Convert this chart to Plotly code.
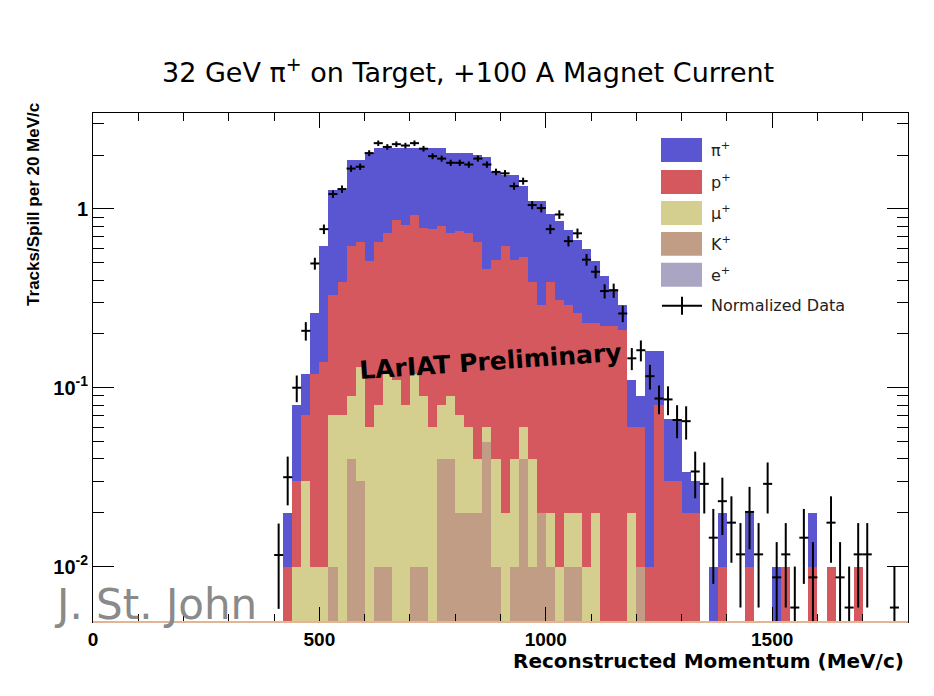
import plotly.graph_objects as go

# 20 MeV/c bins, centres 410 ... 1790
bin_centers = list(range(410, 1800, 20))

# stacked MC contributions (Tracks/Spill per bin)
e_plus = [0.0] * 70

k_plus = [0, 0, 0, 0, 0, 0, 0.01, 0, 0.04, 0.03,
          0, 0.01, 0.01, 0, 0, 0.01, 0.01, 0, 0.04, 0.04,
          0.02, 0.02, 0.02, 0.05, 0.01, 0, 0.01, 0.04, 0.01, 0.02,
          0.01, 0, 0.01, 0.01, 0, 0, 0, 0, 0, 0,
          0.01, 0, 0, 0, 0, 0, 0, 0, 0, 0,
          0, 0, 0, 0, 0, 0, 0, 0, 0, 0,
          0, 0, 0, 0, 0, 0, 0, 0, 0, 0]

mu_plus = [0, 0, 0.01, 0.03, 0.01, 0.01, 0.06, 0.07, 0.05, 0.10,
           0.06, 0.07, 0.11, 0.11, 0.08, 0.11, 0.08, 0.06, 0.04, 0.05,
           0.05, 0.04, 0.02, 0.01, 0.03, 0.02, 0.03, 0.02, 0.03, 0,
           0.01, 0.01, 0.01, 0.01, 0.01, 0.02, 0, 0, 0, 0.02,
           0, 0, 0, 0, 0, 0, 0, 0, 0, 0,
           0, 0, 0, 0, 0, 0, 0, 0, 0, 0,
           0, 0, 0, 0, 0, 0, 0, 0, 0, 0]

p_plus = [0, 0.01, 0.02, 0.04, 0.11, 0.13, 0.26, 0.32, 0.53, 0.52,
          0.45, 0.57, 0.61, 0.76, 0.73, 0.80, 0.69, 0.71, 0.72, 0.64,
          0.68, 0.67, 0.61, 0.40, 0.48, 0.60, 0.48, 0.48, 0.35, 0.27,
          0.37, 0.30, 0.27, 0.24, 0.22, 0.21, 0.22, 0.22, 0.21, 0.04,
          0.05, 0.01, 0.08, 0.03, 0.03, 0.02, 0.02, 0, 0, 0.01,
          0, 0, 0.01, 0, 0, 0, 0.01, 0, 0, 0.01,
          0, 0.01, 0, 0, 0.01, 0, 0, 0, 0, 0]

pi_plus = [0, 0.01, 0.05, 0.05, 0.14, 0.48, 0.94, 0.88, 1.25, 1.22,
           1.54, 1.53, 1.45, 1.31, 1.37, 1.26, 1.40, 1.41, 1.38, 1.32,
           1.30, 1.32, 1.35, 1.50, 1.09, 0.93, 1.03, 0.81, 0.71, 0.81,
           0.55, 0.55, 0.47, 0.41, 0.37, 0.28, 0.20, 0.135, 0.08, 0.05,
           0.03, 0.15, 0.08, 0.037, 0.037, 0.014, 0.01, 0, 0.01, 0.01,
           0, 0, 0.01, 0, 0, 0.01, 0, 0, 0, 0.01,
           0, 0, 0, 0, 0, 0, 0, 0, 0, 0]

# normalized data and its errors (None = empty bin)
data_vals = [0.0116, 0.0316, 0.10, 0.208, 0.495, 0.77, 1.21, 1.29, 1.68, 1.72,
             2.05, 2.33, 2.22, 2.30, 2.26, 2.33, 2.17, 1.97, 1.91, 1.81,
             1.81, 1.77, 1.91, 1.77, 1.61, 1.58, 1.34, 1.43, 1.05, 1.01,
             0.77, 0.93, 0.66, 0.73, 0.52, 0.445, 0.347, 0.35, 0.26, 0.146,
             0.162, 0.116, 0.087, 0.086, 0.066, 0.065, 0.034, 0.029, 0.0145, 0.0232,
             0.0176, 0.0117, 0.0202, 0.0117, 0.029, 0.0087, 0.0117, 0.0059, 0.0145, 0.0087,
             None, 0.0176, 0.0087, 0.0059, 0.0117, 0.0117, None, None, 0.0059, None]

data_errs = [0.0058, 0.0096, 0.017, 0.0246, 0.0379, 0.0473, 0.0592, 0.0612, 0.0698, 0.0706,
             0.0771, 0.0822, 0.0802, 0.0817, 0.081, 0.0822, 0.0793, 0.0756, 0.0744, 0.0724,
             0.0724, 0.0716, 0.0744, 0.0716, 0.0683, 0.0677, 0.0623, 0.0644, 0.0552, 0.0541,
             0.0473, 0.0519, 0.0437, 0.046, 0.0388, 0.0359, 0.0317, 0.0319, 0.0275, 0.0206,
             0.0217, 0.0183, 0.0159, 0.0158, 0.0138, 0.0137, 0.0099, 0.0092, 0.0065, 0.0082,
             0.0071, 0.0058, 0.0077, 0.0058, 0.0092, 0.005, 0.0058, 0.0041, 0.0065, 0.005,
             None, 0.0071, 0.005, 0.0041, 0.0058, 0.0058, None, None, 0.0041, None]

half_bin = [10] * 70

species = [
    ("e<sup>+</sup>", e_plus, "#aaa5c2"),
    ("K<sup>+</sup>", k_plus, "#c09d84"),
    ("\u03bc<sup>+</sup>", mu_plus, "#d5cf8f"),
    ("p<sup>+</sup>", p_plus, "#d6585f"),
    ("\u03c0<sup>+</sup>", pi_plus, "#5a56d2"),
]

FONT = "Liberation Sans, Arial, Helvetica, sans-serif"
WIDE = "DejaVu Sans, Verdana, sans-serif"

# the page body has an 8px margin, so the figure starts at (8, 8)
OFF = 8
# plot frame in page pixels
L, R, T, B = 93, 908, 113, 622.5
W, H = 934 - OFF, 696 - OFF


def px(x):
    return (x - L) / (R - L)


def py(y):
    return (B - y) / (B - T)


fig = go.Figure()
for name, vals, col in species:
    fig.add_trace(go.Bar(x=bin_centers, y=vals, width=20, name=name,
                         marker=dict(color=col, line=dict(width=0)),
                         showlegend=False))

fig.add_trace(go.Scatter(
    x=bin_centers, y=data_vals, mode="markers", name="Normalized Data",
    marker=dict(size=1, color="black"),
    error_y=dict(type="data", array=data_errs, color="black", thickness=2, width=0),
    error_x=dict(type="data", array=half_bin, color="black", thickness=2, width=0),
    showlegend=False))

shapes = []
annotations = []

# legend drawn by hand (ROOT style boxes)
legend_rows = [("\u03c0<sup>+</sup>", "#5a56d2", 150),
               ("p<sup>+</sup>", "#d6585f", 182),
               ("\u03bc<sup>+</sup>", "#d5cf8f", 213),
               ("K<sup>+</sup>", "#c09d84", 244),
               ("e<sup>+</sup>", "#aaa5c2", 275)]
for lab, col, yc in legend_rows:
    shapes.append(dict(type="rect", xref="paper", yref="paper",
                       x0=px(661), x1=px(702), y0=py(yc + 12), y1=py(yc - 12),
                       fillcolor=col, line=dict(width=0), layer="above"))
    annotations.append(dict(text=lab, xref="paper", yref="paper", x=px(709), y=py(yc),
                            xanchor="left", yanchor="middle", showarrow=False,
                            font=dict(family=WIDE, size=16, color="#222")))
shapes.append(dict(type="line", xref="paper", yref="paper", x0=px(662), x1=px(702),
                   y0=py(306), y1=py(306), line=dict(color="black", width=2), layer="above"))
shapes.append(dict(type="line", xref="paper", yref="paper", x0=px(682), x1=px(682),
                   y0=py(297), y1=py(315), line=dict(color="black", width=2), layer="above"))
annotations.append(dict(text="Normalized Data", xref="paper", yref="paper", x=px(709), y=py(306),
                        xanchor="left", yanchor="middle", showarrow=False,
                        font=dict(family=WIDE, size=16, color="#222")))

# bottom line of the frame is drawn in the e+ outline colour
shapes.append(dict(type="line", xref="paper", yref="paper", x0=0, x1=1, y0=0, y1=0,
                   line=dict(color="#e3b596", width=2), layer="above"))

annotations += [
    dict(text="32 GeV \u03c0<sup>+</sup> on Target, +100 A Magnet Current", xref="paper", yref="paper",
         x=px(468), y=py(70), xanchor="center", yanchor="middle", showarrow=False,
         font=dict(family=WIDE, size=27, color="black")),
    dict(text="<b>Tracks/Spill per 20 MeV/c</b>", xref="paper", yref="paper",
         x=px(34), y=py(205), xanchor="center", yanchor="middle", textangle=-90, showarrow=False,
         font=dict(family=FONT, size=17, color="black")),
    dict(text="<b>Reconstructed Momentum (MeV/c)</b>", xref="paper", yref="paper",
         x=px(906), y=py(662), xanchor="right", yanchor="middle", showarrow=False,
         font=dict(family=WIDE, size=20, color="black")),
    dict(text="<b>LArIAT Preliminary</b>", xref="paper", yref="paper",
         x=px(490), y=py(362), xanchor="center", yanchor="middle", textangle=-4, showarrow=False,
         font=dict(family=WIDE, size=25, color="black")),
    dict(text="J. St. John", xref="paper", yref="paper",
         x=px(52), y=py(605), xanchor="left", yanchor="middle", showarrow=False,
         font=dict(family=WIDE, size=42, color="#8a8a8a")),
]

fig.update_layout(
    width=W, height=H,
    margin=dict(l=L - OFF, r=W + OFF - R, t=T - OFF, b=H + OFF - B),
    paper_bgcolor="white", plot_bgcolor="white",
    barmode="stack", bargap=0,
    shapes=shapes, annotations=annotations,
    font=dict(family=FONT, color="black"),
)

fig.update_xaxes(
    range=[0, 1800], showgrid=False, zeroline=False,
    showline=True, linecolor="black", linewidth=1, mirror="ticks",
    ticks="inside", ticklen=15, tickcolor="black",
    tickvals=[0, 500, 1000, 1500], ticktext=["<b>0</b>", "<b>500</b>", "<b>1000</b>", "<b>1500</b>"],
    tickfont=dict(family=FONT, size=19, color="black"),
    minor=dict(ticks="inside", ticklen=8, tickcolor="black", dtick=100),
)

y_minor = [v * m for v in (0.01, 0.1, 1) for m in range(2, 10)]
fig.update_yaxes(
    type="log", range=[-2.31, 0.536], showgrid=False, zeroline=False,
    showline=True, linecolor="black", linewidth=1, mirror="ticks",
    ticks="inside", ticklen=21, tickcolor="black",
    tickvals=[0.01, 0.1, 1], ticktext=["<b>10<sup>-2</sup></b>", "<b>10<sup>-1</sup></b>", "<b>1</b>"],
    tickfont=dict(family=FONT, size=20, color="black"),
    minor=dict(ticks="inside", ticklen=11, tickcolor="black", tickvals=y_minor),
)

fig.write_html("out.html")
